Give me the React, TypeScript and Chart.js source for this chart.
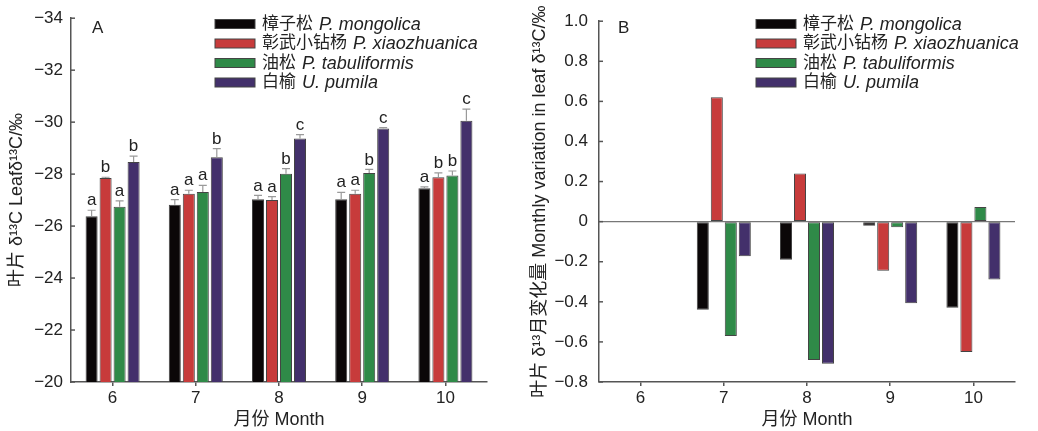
import { useEffect, useRef } from 'react';
import { Chart, registerables } from 'chart.js';

Chart.register(...registerables);

const FONT = "'Liberation Sans', Arial, 'Noto Sans CJK SC', sans-serif";
const TEXT = '#222';
const AXIS = '#555';

// 月份 / 树种
const months = ['6', '7', '8', '9', '10'];
const speciesCn = ['樟子松', '彰武小钻杨', '油松', '白榆'];
const speciesLatin = ['P. mongolica', 'P. xiaozhuanica', 'P. tabuliformis', 'U. pumila'];
const colors = ['#0b0708', '#c73b3b', '#2f8a48', '#43306b'];

// A: 叶片 δ13C (‰)
const mongolicaD13C = [-26.38, -26.82, -27.03, -27.03, -27.46];
const xiaozhuanicaD13C = [-27.85, -27.24, -27.0, -27.24, -27.88];
const tabuliformisD13C = [-26.74, -27.31, -28.01, -28.04, -27.95];
const pumilaD13C = [-28.47, -28.65, -29.37, -29.76, -30.05];

// 标准误
const mongolicaErr = [0.23, 0.2, 0.15, 0.27, 0.05];
const xiaozhuanicaErr = [0.03, 0.14, 0.13, 0.14, 0.17];
const tabuliformisErr = [0.23, 0.26, 0.2, 0.14, 0.17];
const pumilaErr = [0.22, 0.33, 0.15, 0.03, 0.45];

// 显著性字母
const mongolicaSig = ['a', 'a', 'a', 'a', 'a'];
const xiaozhuanicaSig = ['b', 'a', 'a', 'a', 'b'];
const tabuliformisSig = ['a', 'a', 'b', 'b', 'b'];
const pumilaSig = ['b', 'b', 'c', 'c', 'c'];

// B: 月变化量
const mongolicaDelta = [null, -0.44, -0.19, -0.02, -0.43];
const xiaozhuanicaDelta = [null, 0.62, 0.24, -0.245, -0.65];
const tabuliformisDelta = [null, -0.57, -0.69, -0.028, 0.073];
const pumilaDelta = [null, -0.173, -0.709, -0.407, -0.289];

const d13cSeries = [mongolicaD13C, xiaozhuanicaD13C, tabuliformisD13C, pumilaD13C];
const errSeries = [mongolicaErr, xiaozhuanicaErr, tabuliformisErr, pumilaErr];
const sigSeries = [mongolicaSig, xiaozhuanicaSig, tabuliformisSig, pumilaSig];
const deltaSeries = [mongolicaDelta, xiaozhuanicaDelta, tabuliformisDelta, pumilaDelta];

const minus = (s: string) => s.replace('-', '\u2212');

// y轴刻度朝内
const inwardTicks = {
  id: 'inwardTicks',
  afterDraw(chart: any) {
    const { ctx, chartArea, scales } = chart;
    const y = scales.y;
    ctx.save();
    ctx.strokeStyle = AXIS;
    ctx.lineWidth = 1.5;
    y.ticks.forEach((t: any) => {
      const py = y.getPixelForValue(t.value);
      ctx.beginPath();
      ctx.moveTo(chartArea.left, py);
      ctx.lineTo(chartArea.left + 4, py);
      ctx.stroke();
    });
    ctx.restore();
  },
};

// 图例：中文 + 斜体拉丁名
const mixedLegend = {
  id: 'mixedLegend',
  afterDraw(chart: any, _args: any, opts: any) {
    const { ctx, chartArea } = chart;
    ctx.save();
    chart.data.datasets.forEach((ds: any, i: number) => {
      const bx = chartArea.left + opts.x;
      const cy = opts.y + i * opts.gap;
      ctx.fillStyle = ds.backgroundColor;
      ctx.fillRect(bx, cy - 4.5, 40, 9);
      ctx.strokeStyle = '#444';
      ctx.lineWidth = 1;
      ctx.strokeRect(bx, cy - 4.5, 40, 9);
      ctx.fillStyle = TEXT;
      ctx.textBaseline = 'middle';
      ctx.textAlign = 'left';
      ctx.font = `17px ${FONT}`;
      const tx = bx + 47;
      ctx.fillText(ds.cn, tx, cy);
      const w = ctx.measureText(ds.cn).width;
      ctx.font = `italic 18px ${FONT}`;
      ctx.fillText(ds.latin, tx + w + 6, cy + 0.5);
    });
    ctx.restore();
  },
};

// 面板字母
const panelLabel = {
  id: 'panelLabel',
  afterDraw(chart: any, _args: any, opts: any) {
    const { ctx, chartArea } = chart;
    ctx.save();
    ctx.fillStyle = TEXT;
    ctx.font = `17px ${FONT}`;
    ctx.textAlign = 'left';
    ctx.textBaseline = 'alphabetic';
    ctx.fillText(opts.text, chartArea.left + opts.dx, opts.y);
    ctx.restore();
  },
};

// 误差线与显著性字母
const errorBars = {
  id: 'errorBars',
  afterDatasetsDraw(chart: any) {
    const { ctx, scales } = chart;
    const y = scales.y;
    ctx.save();
    chart.data.datasets.forEach((ds: any, i: number) => {
      const meta = chart.getDatasetMeta(i);
      meta.data.forEach((bar: any, j: number) => {
        const v = ds.data[j];
        const e = ds.err[j];
        const top = y.getPixelForValue(v - e);
        const py = y.getPixelForValue(v);
        ctx.strokeStyle = '#9a9a9a';
        ctx.lineWidth = 1.2;
        ctx.beginPath();
        ctx.moveTo(bar.x, py);
        ctx.lineTo(bar.x, top);
        ctx.moveTo(bar.x - 4, top);
        ctx.lineTo(bar.x + 4, top);
        ctx.stroke();
        ctx.fillStyle = TEXT;
        ctx.font = `17px ${FONT}`;
        ctx.textAlign = 'center';
        ctx.textBaseline = 'bottom';
        ctx.fillText(ds.sig[j], bar.x, top - 1);
      });
    });
    ctx.restore();
  },
};

function xScale() {
  return {
    offset: true,
    grid: { display: true, drawOnChartArea: false, drawTicks: true, tickLength: 4, offset: false, color: AXIS, lineWidth: 1.5 },
    border: { display: true, color: AXIS, width: 1.5 },
    ticks: { color: TEXT, font: { size: 17, family: FONT }, padding: 2 },
    title: { display: true, text: '月份 Month', color: TEXT, font: { size: 18, family: FONT }, padding: { top: 0, bottom: 0 } },
    afterFit(scale: any) {
      scale.height = 49;
    },
  };
}

function LeftChart() {
  const chartRef = useRef<HTMLCanvasElement>(null);
  const chartInstance = useRef<Chart | null>(null);

  useEffect(() => {
    if (!chartRef.current) return;
    if (chartInstance.current) chartInstance.current.destroy();

    chartInstance.current = new Chart(chartRef.current, {
      type: 'bar',
      data: {
        labels: months,
        datasets: d13cSeries.map((s, i) => ({
          label: `${speciesCn[i]} ${speciesLatin[i]}`,
          cn: speciesCn[i],
          latin: speciesLatin[i],
          data: s,
          err: errSeries[i],
          sig: sigSeries[i],
          base: -20,
          backgroundColor: colors[i],
          borderColor: '#444',
          borderWidth: 1,
          barPercentage: 0.86,
          categoryPercentage: 0.673,
        })) as any,
      },
      options: {
        animation: false,
        responsive: true,
        maintainAspectRatio: false,
        layout: { padding: { top: 18, right: 33, bottom: 0, left: 0 } },
        plugins: {
          legend: { display: false },
          tooltip: { enabled: false },
          mixedLegend: { x: 144, y: 24, gap: 19.5 },
          panelLabel: { text: 'A', dx: 21, y: 33 },
        } as any,
        scales: {
          x: xScale() as any,
          y: {
            reverse: true,
            min: -34,
            max: -20,
            ticks: {
              stepSize: 2,
              color: TEXT,
              font: { size: 17, family: FONT },
              padding: 8,
              callback: (v: any) => minus(String(v)),
            },
            grid: { display: false, drawTicks: false },
            border: { display: true, color: AXIS, width: 1.5 },
            title: {
              display: true,
              text: '叶片 δ¹³C Leafδ¹³C/‰',
              color: TEXT,
              font: { size: 18, family: FONT },
              padding: { top: 6, bottom: 0 },
            },
            afterFit(scale: any) {
              scale.width = 71;
            },
          },
        },
      },
      plugins: [errorBars, inwardTicks, mixedLegend, panelLabel],
    });

    return () => {
      if (chartInstance.current) {
        chartInstance.current.destroy();
        chartInstance.current = null;
      }
    };
  }, []);

  return <canvas ref={chartRef}></canvas>;
}

function RightChart() {
  const chartRef = useRef<HTMLCanvasElement>(null);
  const chartInstance = useRef<Chart | null>(null);

  useEffect(() => {
    if (!chartRef.current) return;
    if (chartInstance.current) chartInstance.current.destroy();

    chartInstance.current = new Chart(chartRef.current, {
      type: 'bar',
      data: {
        labels: months,
        datasets: deltaSeries.map((s, i) => ({
          label: `${speciesCn[i]} ${speciesLatin[i]}`,
          cn: speciesCn[i],
          latin: speciesLatin[i],
          data: s,
          backgroundColor: colors[i],
          borderColor: '#444',
          borderWidth: 1,
          borderSkipped: false,
          barPercentage: 0.86,
          categoryPercentage: 0.673,
        })) as any,
      },
      options: {
        animation: false,
        responsive: true,
        maintainAspectRatio: false,
        layout: { padding: { top: 18, right: 23, bottom: 0, left: 0 } },
        plugins: {
          legend: { display: false },
          tooltip: { enabled: false },
          mixedLegend: { x: 157, y: 24, gap: 19.5 },
          panelLabel: { text: 'B', dx: 19, y: 33 },
        } as any,
        scales: {
          x: xScale() as any,
          y: {
            min: -0.8,
            max: 1.0,
            ticks: {
              stepSize: 0.2,
              color: TEXT,
              font: { size: 17, family: FONT },
              padding: 11,
              callback: (v: any) => (Math.abs(Number(v)) < 1e-9 ? '0' : minus(Number(v).toFixed(1))),
            },
            grid: {
              drawTicks: false,
              color: (c: any) => (c.tick && Math.abs(c.tick.value) < 1e-9 ? '#777' : 'rgba(0,0,0,0)'),
              lineWidth: 1.2,
            },
            border: { display: true, color: AXIS, width: 1.5 },
            title: {
              display: true,
              text: '叶片 δ¹³月变化量 Monthly variation in leaf δ¹³C/‰',
              color: TEXT,
              font: { size: 18, family: FONT },
              padding: { top: 9, bottom: 0 },
            },
            afterFit(scale: any) {
              scale.width = 79;
            },
          },
        },
      },
      plugins: [inwardTicks, mixedLegend, panelLabel],
    });

    return () => {
      if (chartInstance.current) {
        chartInstance.current.destroy();
        chartInstance.current = null;
      }
    };
  }, []);

  return <canvas ref={chartRef}></canvas>;
}

export default function App() {
  return (
    <div style={{ position: 'absolute', left: 0, top: 0, width: 1038, height: 431, background: '#fff' }}>
      <div style={{ position: 'absolute', left: 0, top: 0, width: 520, height: 431 }}>
        <LeftChart />
      </div>
      <div style={{ position: 'absolute', left: 520, top: 0, width: 518, height: 431 }}>
        <RightChart />
      </div>
    </div>
  );
}
